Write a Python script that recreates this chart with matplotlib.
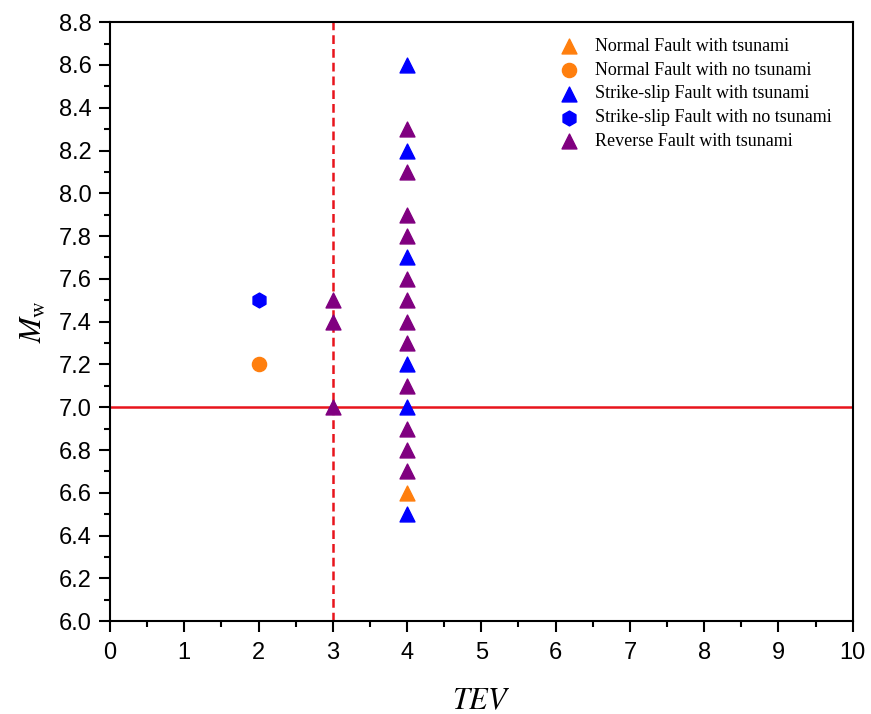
import numpy as np
import matplotlib
matplotlib.use("Agg")
import matplotlib.pyplot as plt
from matplotlib.ticker import MultipleLocator

plt.rcParams['mathtext.fontset'] = 'stix'

# data
normal_tsu_x = [4]
normal_tsu_y = [6.6]
normal_no_x = [2]
normal_no_y = [7.2]
strike_tsu_x = [4, 4, 4, 4, 4, 4]
strike_tsu_y = [8.6, 8.2, 7.7, 7.2, 7.0, 6.5]
strike_no_x = [2]
strike_no_y = [7.5]
reverse_tsu_x = [3, 3, 3] + [4] * 12
reverse_tsu_y = [7.5, 7.4, 7.0,
                 8.3, 8.1, 7.9, 7.8, 7.6, 7.5, 7.4, 7.3, 7.1, 6.9, 6.8, 6.7]

fig = plt.figure(figsize=(8.71, 7.14), dpi=100)
ax = fig.add_axes([0.1263, 0.130, 0.8527, 0.839])

ax.axhline(7.0, color='#e8141c', lw=1.8, zorder=1)
ax.axvline(3.0, color='#e8141c', lw=1.8, ls=(0, (3.5, 2)), zorder=1)

ms = 115
ax.scatter(normal_tsu_x, normal_tsu_y, marker='^', s=ms, color='#ff7f0e', label='Normal Fault with tsunami', zorder=3)
ax.scatter(normal_no_x, normal_no_y, marker='o', s=ms * 0.9, color='#ff7f0e', label='Normal Fault with no tsunami', zorder=3)
ax.scatter(strike_tsu_x, strike_tsu_y, marker='^', s=ms, color='#0000ff', label='Strike-slip Fault with tsunami', zorder=3)
ax.scatter(strike_no_x, strike_no_y, marker='h', s=ms, color='#0000ff', label='Strike-slip Fault with no tsunami', zorder=3)
ax.scatter(reverse_tsu_x, reverse_tsu_y, marker='^', s=ms, color='#800080', label='Reverse Fault with tsunami', zorder=3)

ax.set_xlim(0, 10)
ax.set_ylim(6.0, 8.8)
ax.xaxis.set_major_locator(MultipleLocator(1))
ax.xaxis.set_minor_locator(MultipleLocator(0.5))
ax.yaxis.set_minor_locator(MultipleLocator(0.1))
yt = np.round(np.arange(6.0, 8.81, 0.2), 1)
ax.set_yticks(yt)
ax.set_yticklabels([f'{v:.1f}' for v in yt])

for sp in ax.spines.values():
    sp.set_linewidth(1.5)
ax.tick_params(which='major', direction='out', length=8, width=1.5, labelsize=17,
               top=False, right=False)
ax.tick_params(axis='x', which='major', pad=7)
ax.tick_params(axis='y', which='major', pad=5)
ax.tick_params(which='minor', direction='out', length=4.5, width=1.5, top=False, right=False)
for lab in ax.get_xticklabels() + ax.get_yticklabels():
    lab.set_family('Liberation Sans')

ax.set_xlabel(r'$TEV$', fontsize=22, labelpad=16)
ax.set_ylabel(r'$M_{\mathrm{w}}$', fontsize=22, labelpad=8)

leg = ax.legend(loc='upper right', bbox_to_anchor=(0.972, 0.974), frameon=False,
                prop={'family': 'Liberation Serif', 'size': 13},
                handletextpad=0.45, labelspacing=0.38, borderaxespad=0, borderpad=0,
                scatterpoints=1)

fig.savefig('out.png', dpi=100)
